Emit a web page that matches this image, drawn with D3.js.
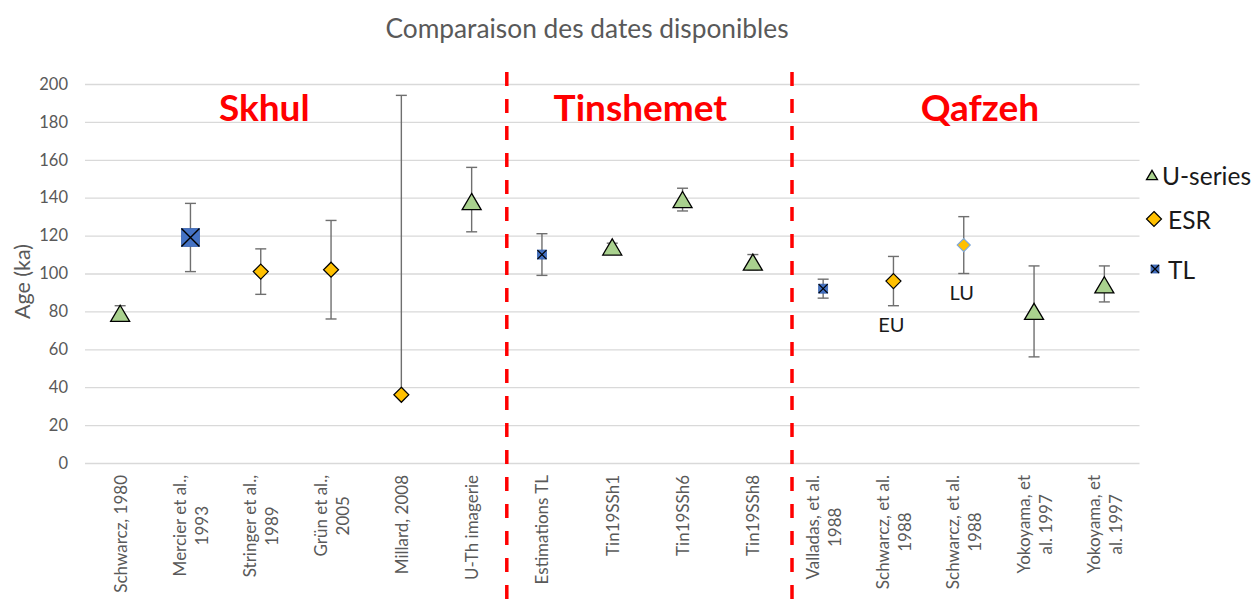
<!DOCTYPE html>
<html>
<head>
<meta charset="utf-8">
<script src="https://cdn.jsdelivr.net/npm/d3@7"></script>
<style>
  body { margin: 0; background: #fff; }
  svg { display: block; }
</style>
</head>
<body>
<svg id="chart" width="1257" height="603"></svg>
<script>
// ---- data ----
const categories = [
  "Schwarcz, 1980", "Mercier et al.,\n1993", "Stringer et al.,\n1989", "Grün et al.,\n2005",
  "Millard, 2008", "U-Th imagerie", "Estimations TL", "Tin19SSh1", "Tin19SSh6", "Tin19SSh8",
  "Valladas, et al.\n1988", "Schwarcz, et al.\n1988", "Schwarcz, et al.\n1988",
  "Yokoyama, et\nal. 1997", "Yokoyama, et\nal. 1997"
];
const methods = ["U-series", "TL", "ESR", "ESR", "ESR", "U-series", "TL", "U-series",
  "U-series", "U-series", "TL", "ESR", "ESR", "U-series", "U-series"];
const ages     = [79, 119, 101, 102, 36, 138, 110, 114, 139, 106, 92, 96, 115, 80, 94];
const errPlus  = [4, 18, 12, 26, 158, 18, 11, 2, 6, 4, 5, 13, 15, 24, 10];
const errMinus = [4, 18, 12, 26, 0, 16, 11, 2, 6, 4, 5, 13, 15, 24, 9];
const notes    = ["", "", "", "", "", "", "", "", "", "", "", "EU", "LU", "", ""];
const yTicks   = [0, 20, 40, 60, 80, 100, 120, 140, 160, 180, 200];
const siteNames = ["Skhul", "Tinshemet", "Qafzeh"];
const siteFirst = [0, 6, 10];          // first category index of each site
const legendItems = ["U-series", "ESR", "TL"];
const titleText = "Comparaison des dates disponibles";
const yTitle = "Age (ka)";

// ---- layout ----
const W = 1257, H = 603;
const margin = { left: 85, right: 117.5, top: 84, bottom: 140 };
const FONT = "Lato, 'Liberation Sans', sans-serif";
const GREY = "#595959";

const svg = d3.select("#chart");
const idx = d3.range(categories.length);

const x = d3.scaleBand().domain(idx).range([margin.left, W - margin.right]).padding(0);
const y = d3.scaleLinear().domain([0, 200]).range([H - margin.bottom, margin.top]);
const cx = i => x(i) + x.bandwidth() / 2;

// title
svg.append("text")
  .attr("x", 587).attr("y", 28)
  .attr("text-anchor", "middle").attr("dominant-baseline", "central")
  .attr("font-family", FONT).attr("font-size", 26.3).attr("fill", GREY)
  .text(titleText);

// y axis with gridlines
const yAxis = svg.append("g")
  .attr("transform", `translate(${margin.left},0)`)
  .call(d3.axisLeft(y).tickValues(yTicks).tickSize(-(W - margin.left - margin.right)).tickPadding(17));
yAxis.select(".domain").remove();
yAxis.selectAll(".tick line").attr("stroke", "#d9d9d9").attr("stroke-width", 1.3);
yAxis.selectAll(".tick text")
  .attr("font-family", FONT).attr("font-size", 16.5).attr("fill", GREY);

// y axis title
svg.append("text")
  .attr("transform", `translate(22,${(y(0) + y(200)) / 2 + 8}) rotate(-90)`)
  .attr("text-anchor", "middle").attr("dominant-baseline", "central")
  .attr("font-family", FONT).attr("font-size", 21.5).attr("fill", GREY)
  .text(yTitle);

// x axis category labels (rotated, multi-line, centred within their block)
const xAxis = svg.append("g")
  .attr("transform", `translate(0,${y(0)})`)
  .call(d3.axisBottom(x).tickSize(0).tickFormat(""));
xAxis.select(".domain").remove();

const lineH = 22;
xAxis.selectAll(".tick").each(function (i) {
  const lines = categories[i].split("\n");
  const g = d3.select(this).append("g").attr("transform", `translate(0,12) rotate(-90)`);
  const texts = lines.map((s, k) => g.append("text")
    .attr("y", (k - (lines.length - 1) / 2) * lineH)
    .attr("dominant-baseline", "central")
    .attr("text-anchor", "middle")
    .attr("font-family", FONT).attr("font-size", 17).attr("fill", GREY)
    .text(s));
  const L = d3.max(texts, t => t.node().getComputedTextLength());
  texts.forEach(t => t.attr("x", -L / 2));
});

// site separators
siteFirst.slice(1).forEach((i, k) => {
  const xs = x(i) + (k === 1 ? 4 : 0);
  svg.append("line")
    .attr("x1", xs).attr("x2", xs)
    .attr("y1", 72).attr("y2", H)
    .attr("stroke", "#ff0000").attr("stroke-width", 3.5)
    .attr("stroke-dasharray", "14,13");
});

// site names
const siteAnchor = [2.55, 7.9, 12.73];   // horizontal anchor in category units
siteNames.forEach((s, k) => {
  svg.append("text")
    .attr("x", margin.left + siteAnchor[k] * x.step())
    .attr("y", y(180) - 1)
    .attr("text-anchor", "middle")
    .attr("font-family", FONT).attr("font-weight", 700).attr("font-size", 37)
    .attr("fill", "#ff0000")
    .text(s);
});

// error bars
const bars = svg.append("g").attr("stroke", "#6f6f6f").attr("stroke-width", 1.4).attr("fill", "none");
idx.forEach(i => {
  const top = y(ages[i] + errPlus[i]), bot = y(ages[i] - errMinus[i]);
  bars.append("line").attr("x1", cx(i)).attr("x2", cx(i)).attr("y1", top).attr("y2", bot);
  bars.append("line").attr("x1", cx(i) - 5.5).attr("x2", cx(i) + 5.5).attr("y1", top).attr("y2", top);
  if (errMinus[i] > 0)
    bars.append("line").attr("x1", cx(i) - 5.5).attr("x2", cx(i) + 5.5).attr("y1", bot).attr("y2", bot);
});

// marker shapes
function drawMarker(g, method, size, stroke) {
  if (method === "U-series") {
    const w = size, h = size * 0.85;
    g.append("path")
      .attr("d", `M0,${-h / 2}L${w / 2},${h / 2}L${-w / 2},${h / 2}Z`)
      .attr("fill", "#a9d18e").attr("stroke", stroke || "#000").attr("stroke-width", 1.3)
      .attr("stroke-linejoin", "miter");
  } else if (method === "ESR") {
    const r = size / 2;
    g.append("path")
      .attr("d", `M0,${-r}L${r},0L0,${r}L${-r},0Z`)
      .attr("fill", "#ffc000").attr("stroke", stroke || "#000").attr("stroke-width", 1.2);
  } else {
    const r = size / 2;
    g.append("rect").attr("x", -r).attr("y", -r).attr("width", size).attr("height", size)
      .attr("fill", "#4472c4").attr("stroke", "#3a63ad").attr("stroke-width", 0.8);
    g.append("path")
      .attr("d", `M${-r},${-r}L${r},${r}M${r},${-r}L${-r},${r}`)
      .attr("stroke", "#000").attr("stroke-width", size > 12 ? 1.4 : 1.2);
  }
}

// per-point marker style
const baseSize = { "U-series": 19, "ESR": 15, "TL": 9 };
const pointSize = i => (i === 1 ? 18 : i === 12 ? 13 : baseSize[methods[i]]);
const pointStroke = i => (i === 12 ? "#7fa8dc" : null);

const pts = svg.append("g");
idx.forEach(i => {
  const g = pts.append("g").attr("transform", `translate(${cx(i)},${y(ages[i])})`);
  drawMarker(g, methods[i], pointSize(i), pointStroke(i));
});

// annotations below error bars
idx.filter(i => notes[i]).forEach(i => {
  svg.append("text")
    .attr("x", cx(i) - 2).attr("y", y(ages[i] - errMinus[i]) + 18)
    .attr("text-anchor", "middle").attr("dominant-baseline", "central")
    .attr("font-family", FONT).attr("font-size", 20).attr("fill", "#1a1a1a")
    .text(notes[i]);
});

// legend
const legendY = [175, 219, 269];
const legendSize = { "U-series": 11, "ESR": 15, "TL": 8 };
const legendMarkX = { "U-series": 1152, "ESR": 1154, "TL": 1155 };
legendItems.forEach((m, k) => {
  const g = svg.append("g").attr("transform", `translate(${legendMarkX[m]},${legendY[k]})`);
  drawMarker(g, m, legendSize[m]);
  svg.append("text")
    .attr("x", m === "U-series" ? 1162 : 1168).attr("y", legendY[k])
    .attr("dominant-baseline", "central")
    .attr("font-family", FONT).attr("font-size", 24.5).attr("fill", "#1a1a1a")
    .text(m);
});
</script>
</body>
</html>
